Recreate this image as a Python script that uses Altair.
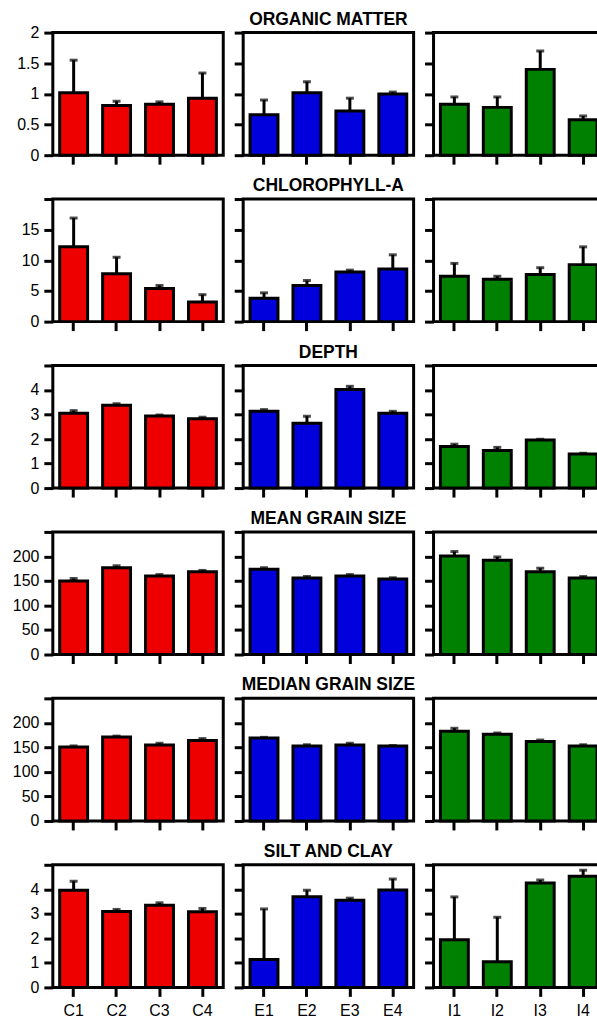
import altair as alt
import pandas as pd

# Sampling sites for each zone
SITES = {
    "C": ["C1", "C2", "C3", "C4"],
    "E": ["E1", "E2", "E3", "E4"],
    "I": ["I1", "I2", "I3", "I4"],
}
COLORS = {"C": "#ee0000", "E": "#0000dd", "I": "#008000"}

VARIABLES = [
    "ORGANIC MATTER",
    "CHLOROPHYLL-A",
    "DEPTH",
    "MEAN GRAIN SIZE",
    "MEDIAN GRAIN SIZE",
    "SILT AND CLAY",
]

# Means and standard errors per zone
organic_mean = {"C": [1.02, 0.81, 0.83, 0.93], "E": [0.66, 1.02, 0.72, 1.00], "I": [0.83, 0.78, 1.40, 0.58]}
organic_se = {"C": [0.53, 0.07, 0.04, 0.41], "E": [0.24, 0.18, 0.21, 0.03], "I": [0.12, 0.17, 0.30, 0.06]}

chla_mean = {"C": [12.2, 7.8, 5.4, 3.2], "E": [3.8, 5.9, 8.1, 8.6], "I": [7.4, 6.9, 7.7, 9.3]}
chla_se = {"C": [4.7, 2.7, 0.5, 1.2], "E": [0.9, 0.8, 0.3, 2.3], "I": [2.1, 0.5, 1.1, 2.9]}

depth_mean = {"C": [3.05, 3.38, 2.94, 2.83], "E": [3.13, 2.64, 4.02, 3.05], "I": [1.70, 1.53, 1.96, 1.39]}
depth_se = {"C": [0.11, 0.06, 0.04, 0.06], "E": [0.07, 0.29, 0.13, 0.08], "I": [0.09, 0.13, 0.03, 0.03]}

mean_grain_mean = {"C": [150, 177, 160, 169], "E": [174, 156, 160, 154], "I": [201, 192, 169, 156]}
mean_grain_se = {"C": [5, 4, 3, 2.5], "E": [3, 3, 3, 2.5], "I": [9, 7, 7, 3]}

median_grain_mean = {"C": [151, 171, 155, 164], "E": [169, 153, 155, 153], "I": [183, 177, 162, 153]}
median_grain_se = {"C": [2, 2, 3.5, 4], "E": [1.5, 2.4, 3.5, 0.7], "I": [6, 2.4, 3, 2.4]}

silt_mean = {"C": [3.96, 3.10, 3.35, 3.09], "E": [1.14, 3.70, 3.55, 3.97], "I": [1.94, 1.05, 4.26, 4.53]}
silt_se = {"C": [0.37, 0.08, 0.10, 0.13], "E": [2.06, 0.26, 0.09, 0.45], "I": [1.75, 1.81, 0.12, 0.25]}

MEANS = [organic_mean, chla_mean, depth_mean, mean_grain_mean, median_grain_mean, silt_mean]
SES = [organic_se, chla_se, depth_se, mean_grain_se, median_grain_se, silt_se]
Y_MAX = [2, 20, 5, 250, 250, 5]
Y_STEP = [0.5, 5, 1, 50, 50, 1]
TOP_LABEL = [True, False, False, False, False, False]

W, H = 171, 123
FONT = "Liberation Sans"


def panel(row, grp):
    df = pd.DataFrame({"site": SITES[grp], "mean": MEANS[row][grp], "se": SES[row][grp]})
    df["upper"] = df["mean"] + df["se"]
    last_row = row == len(VARIABLES) - 1
    first_col = grp == "C"
    ymax, step = Y_MAX[row], Y_STEP[row]
    ticks = [round(i * step, 4) for i in range(int(round(ymax / step)) + 1)]
    label_expr = "datum.label" if TOP_LABEL[row] else f"datum.value >= {ymax} ? '' : datum.label"

    x = alt.X(
        "site:N",
        sort=SITES[grp],
        scale=alt.Scale(paddingInner=0.35, paddingOuter=0.16),
        axis=alt.Axis(
            title=None, labels=last_row, labelAngle=0, domain=False,
            tickSize=9, tickWidth=3, tickColor="black",
            labelFontSize=16, labelFont=FONT, labelColor="black", labelPadding=6,
        ),
    )

    def y(field):
        return alt.Y(
            f"{field}:Q",
            scale=alt.Scale(domain=[0, ymax], nice=False, zero=True),
            axis=alt.Axis(
                title=None, values=ticks, format="~f", labels=first_col, labelExpr=label_expr,
                domain=False, grid=False, tickSize=9, tickWidth=3, tickColor="black",
                labelFontSize=16, labelFont=FONT, labelColor="black", labelPadding=5,
            ),
        )

    base = alt.Chart(df)
    bars = base.mark_bar(color=COLORS[grp], stroke="black", strokeWidth=3).encode(x=x, y=y("mean"))
    err = base.mark_rule(color="black", strokeWidth=3).encode(x=x, y=y("mean"), y2="upper:Q")
    cap = base.mark_tick(color="black", size=8, thickness=3).encode(x=x, y=y("upper"))

    chart = alt.layer(bars, err, cap).properties(width=W, height=H)
    if grp == "E":
        chart = chart.properties(
            title=alt.TitleParams(
                text=VARIABLES[row], anchor="middle", frame="group",
                font=FONT, fontSize=17.5, fontWeight="bold", color="black", offset=3,
            )
        )
    return chart


panels = [panel(r, g) for r in range(len(VARIABLES)) for g in ["C", "E", "I"]]

chart = (
    alt.ConcatChart(concat=panels, columns=3, spacing={"row": 44, "column": 20}, bounds="flush")
    .properties(padding={"left": 10, "top": 7, "right": -9, "bottom": -4}, background="white")
    .configure_view(stroke="black", strokeWidth=3)
)

chart.save("out.html", embed_options={"renderer": "svg", "actions": False})
